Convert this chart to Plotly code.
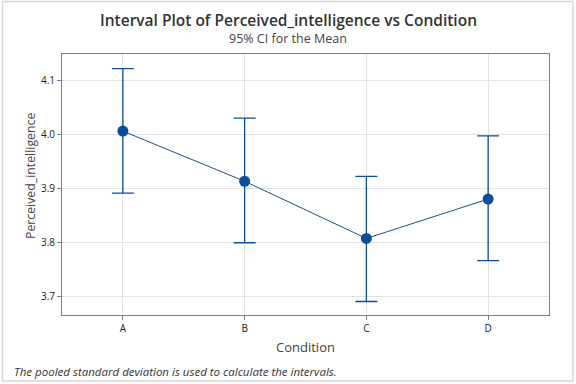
import plotly.graph_objects as go

conditions = ["A", "B", "C", "D"]
means = [4.006, 3.913, 3.807, 3.880]
upper = [4.122, 4.030, 3.922, 3.997]
lower = [3.891, 3.799, 3.690, 3.766]
y_ticks = [3.7, 3.8, 3.9, 4.0, 4.1]

err_plus = [u - m for u, m in zip(upper, means)]
err_minus = [m - l for m, l in zip(means, lower)]

W, H = 576, 384
L, R, T, B = 62, 27, 54, 69
pw, ph = W - L - R, H - T - B


# pixel -> paper helpers
def px(x):
    return (x - L) / pw


def py(y):
    return 1 - (y - T) / ph


fig = go.Figure()
fig.add_trace(go.Scatter(
    x=list(range(len(conditions))), y=means,
    mode="lines+markers",
    line=dict(color="#1F4E85", width=1),
    marker=dict(color="#0A4E9B", size=11),
    error_y=dict(type="data", symmetric=False, array=err_plus, arrayminus=err_minus,
                 color="#0A4E9B", thickness=1.3, width=11),
    hoverinfo="skip",
))

font = "Open Sans, Noto Sans, sans-serif"
fig.update_layout(
    width=W, height=H,
    margin=dict(l=L, r=R, t=T, b=B),
    paper_bgcolor="white", plot_bgcolor="white",
    showlegend=False,
    font=dict(family=font, color="#333333"),
    xaxis=dict(
        range=[-0.5, 3.5], tickvals=list(range(len(conditions))), ticktext=conditions,
        showgrid=True, gridcolor="#E3E3E3", gridwidth=1,
        showline=True, linecolor="#7F7F7F", mirror=True, linewidth=1,
        ticks="outside", ticklen=4, tickcolor="#7F7F7F",
        tickfont=dict(size=10, color="#222222"),
        zeroline=False,
    ),
    yaxis=dict(
        range=[3.665, 4.149], tickvals=y_ticks, ticktext=[f"{v:.1f}" for v in y_ticks],
        showgrid=True, gridcolor="#E3E3E3", gridwidth=1,
        showline=True, linecolor="#7F7F7F", mirror=True, linewidth=1,
        ticks="outside", ticklen=4, tickcolor="#7F7F7F",
        tickfont=dict(size=10, color="#222222"),
        zeroline=False,
    ),
    annotations=[
        dict(text="Interval Plot of Perceived_intelligence vs Condition",
             xref="paper", yref="paper", x=px(288), y=py(20),
             xanchor="center", yanchor="middle", showarrow=False,
             font=dict(size=15.5, color="#333333", weight=600)),
        dict(text="95% CI for the Mean",
             xref="paper", yref="paper", x=px(288), y=py(39),
             xanchor="center", yanchor="middle", showarrow=False,
             font=dict(size=12.5, color="#444444")),
        dict(text="Perceived_intelligence", textangle=-90,
             xref="paper", yref="paper", x=px(30), y=py(176),
             xanchor="center", yanchor="middle", showarrow=False,
             font=dict(size=12.3, color="#444444")),
        dict(text="Condition",
             xref="paper", yref="paper", x=px(305), y=py(347),
             xanchor="center", yanchor="middle", showarrow=False,
             font=dict(size=13, color="#444444")),
        dict(text="<i>The pooled standard deviation is used to calculate the intervals.</i>",
             xref="paper", yref="paper", x=px(12), y=py(371),
             xanchor="left", yanchor="middle", showarrow=False,
             font=dict(size=11.5, color="#333333")),
    ],
    shapes=[
        dict(type="rect", xref="paper", yref="paper",
             x0=px(2.5), x1=px(573), y0=py(381), y1=py(1.5),
             line=dict(color="#D6D6D6", width=1.5)),
    ],
)

fig.write_html("out.html", config={"displayModeBar": False},
               post_script="document.body.style.margin='0';document.body.style.overflow='hidden';")
